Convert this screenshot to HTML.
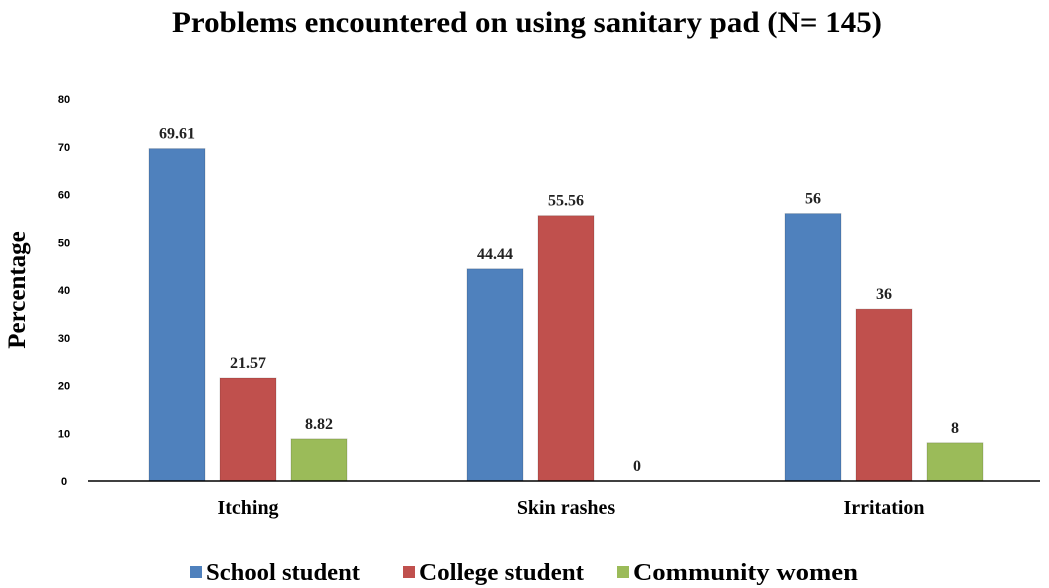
<!DOCTYPE html>
<html><head><meta charset="utf-8"><style>
body{margin:0;background:#fff;}
svg{display:block;}
</style></head><body>
<svg id="chart" width="1049" height="588" viewBox="0 0 1049 588" xmlns="http://www.w3.org/2000/svg">
<text x="172" y="32" textLength="710" lengthAdjust="spacingAndGlyphs" font-family="Liberation Serif, serif" font-weight="bold" font-size="30" fill="#000">Problems encountered on using sanitary pad (N= 145)</text>
<text transform="translate(25,290) rotate(-90)" text-anchor="middle" font-family="Liberation Serif, serif" font-weight="bold" font-size="25" fill="#000">Percentage</text>
<g id="yticks"></g>
<g id="bars"></g>
<line x1="88" y1="481" x2="1040" y2="481" stroke="#000" stroke-width="1.5"/>
<g id="cats"></g>
<g id="legend"></g>
</svg>
<script>
const categories = ["Itching", "Skin rashes", "Irritation"];
const seriesNames = ["School student", "College student", "Community women"];
const schoolValues = [69.61, 44.44, 56];
const collegeValues = [21.57, 55.56, 36];
const communityValues = [8.82, 0, 8];
const valueLabels = [["69.61","44.44","56"],["21.57","55.56","36"],["8.82","0","8"]];
const yTicks = [0,10,20,30,40,50,60,70,80];

const colors = ["#4F81BD","#C0504D","#9BBB59"];
const series = [schoolValues, collegeValues, communityValues];
const NS = "http://www.w3.org/2000/svg";
const y0 = 481, yTop = 99, yMax = 80;
function yScale(v){ return y0 - v/yMax*(y0-yTop); }
const groupStart = 149, groupStep = 318, barW = 56, barStep = 71;
function xBar(ci, si){ return groupStart + ci*groupStep + si*barStep; }
function mk(tag, attrs, parent){ const e=document.createElementNS(NS,tag); for(const k in attrs) e.setAttribute(k,attrs[k]); parent.appendChild(e); return e; }

const yt = document.getElementById('yticks');
yTicks.forEach(t=>{
  const e = mk('text',{x:64,y:yScale(t)+4,'text-anchor':'middle','font-family':'Liberation Sans, sans-serif','font-weight':'bold','font-size':'11',fill:'#000'},yt);
  e.textContent = t;
  
  
});
const bg = document.getElementById('bars');
series.forEach((vals, si)=>{
  vals.forEach((v, ci)=>{
    const x = xBar(ci, si), y = yScale(v);
    if (v > 0) {
      const r = mk('rect',{x:x,y:y,width:barW,height:y0-y,fill:colors[si],stroke:'rgba(0,0,0,0.15)','stroke-width':1},bg);
      
      
    }
    const t = mk('text',{x:x+barW/2,y:y-10,'text-anchor':'middle','font-family':'Liberation Serif, serif','font-weight':'bold','font-size':'16',fill:'#222'},bg);
    t.textContent = valueLabels[si][ci];
    
    
  });
});
const cg = document.getElementById('cats');
categories.forEach((c, ci)=>{
  const t = mk('text',{x:xBar(ci,1)+barW/2,y:514,'text-anchor':'middle','font-family':'Liberation Serif, serif','font-weight':'bold','font-size':'20',fill:'#000'},cg);
  t.textContent = c;
  
  
});
const lg = document.getElementById('legend');
const legX = [190, 403, 617];
const legW = [154, 165, 225];
seriesNames.forEach((n, si)=>{
  const g = mk('g',{},lg);
  
  
  mk('rect',{x:legX[si],y:566,width:12,height:12,fill:colors[si]},g);
  const t = mk('text',{x:legX[si]+16,y:580,textLength:legW[si],lengthAdjust:'spacingAndGlyphs','font-family':'Liberation Serif, serif','font-weight':'bold','font-size':'24',fill:'#000'},g);
  t.textContent = n;
});
</script>
</body></html>
